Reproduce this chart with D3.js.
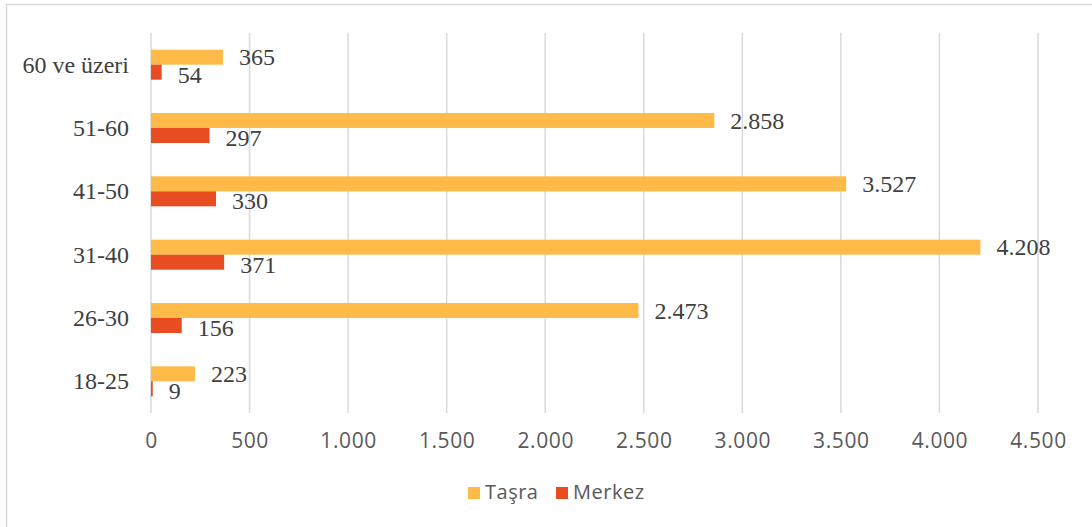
<!DOCTYPE html>
<html>
<head>
<meta charset="utf-8">
<script src="https://cdn.jsdelivr.net/npm/d3@7"></script>
<style>
  body { margin: 0; background: white; }
</style>
</head>
<body>
<div id="container"></div>
<script>
// data
let categories = ["60 ve üzeri", "51-60", "41-50", "31-40", "26-30", "18-25"];
let tasra = [365, 2858, 3527, 4208, 2473, 223];
let merkez = [54, 297, 330, 371, 156, 9];
let seriesNames = ["Taşra", "Merkez"];
let seriesColors = ["#FFBA47", "#E84D22"];
let xTicks = [0, 500, 1000, 1500, 2000, 2500, 3000, 3500, 4000, 4500];

let w = 1092;
let h = 527;

let viz = d3.select("#container")
  .append("svg")
    .attr("width", w)
    .attr("height", h)
;

// thin frame, only top and left edges show in the picture
viz.append("rect")
  .attr("x", 6.5)
  .attr("y", 4.5)
  .attr("width", w + 20)
  .attr("height", h + 20)
  .attr("fill", "white")
  .attr("stroke", "#d9d9d9")
  .attr("stroke-width", 1.5)
;

let xScale = d3.scaleLinear().domain([0, 4500]).range([151, 1038]);
let yScale = d3.scaleBand().domain(categories).range([33, 413])
  .paddingInner(0.526).paddingOuter(0.263);
let subScale = d3.scaleBand().domain(seriesNames).range([0, yScale.bandwidth()]);

let fmt = d3.formatLocale({decimal: ",", thousands: ".", grouping: [3], currency: ["", ""]}).format(",d");

// gridlines
viz.append("g").selectAll("line")
  .data(xTicks)
  .enter()
  .append("line")
    .attr("x1", d => xScale(d))
    .attr("x2", d => xScale(d))
    .attr("y1", 33)
    .attr("y2", 413)
    .attr("stroke", "#d9d9d9")
    .attr("stroke-width", 1.5)
;

// x axis labels (no line, no ticks)
let xAxis = d3.axisBottom(xScale).tickValues(xTicks).tickFormat(fmt).tickSize(0).tickPadding(0);
let xAxisGroup = viz.append("g").attr("transform", "translate(0, 448)").call(xAxis);
xAxisGroup.select(".domain").remove();
xAxisGroup.selectAll("text")
  .attr("dy", 0)
  .attr("y", 0)
  .attr("font-family", "'Open Sans', sans-serif")
  .attr("font-size", 21)
  .attr("letter-spacing", 0.6)
  .attr("fill", "#595959")
;

// category labels
let yAxis = d3.axisLeft(yScale).tickSize(0).tickPadding(0);
let yAxisGroup = viz.append("g").attr("transform", "translate(129, 0)").call(yAxis);
yAxisGroup.select(".domain").remove();
yAxisGroup.selectAll("text")
  .attr("dy", 8)
  .attr("font-family", "'Liberation Serif', 'Times New Roman', serif")
  .attr("font-size", 24)
  .attr("fill", "#404040")
;

let rows = categories.map((c, i) => ({cat: c, values: [tasra[i], merkez[i]]}));

let groups = viz.append("g").selectAll(".row")
  .data(rows)
  .enter()
  .append("g")
    .attr("class", "row")
    .attr("transform", d => "translate(0, " + yScale(d.cat) + ")")
;

groups.selectAll("rect")
  .data(d => d.values.map((v, j) => ({name: seriesNames[j], value: v, j: j})))
  .enter()
  .append("rect")
    .attr("x", xScale(0))
    .attr("y", d => subScale(d.name))
    .attr("width", d => xScale(d.value) - xScale(0))
    .attr("height", subScale.bandwidth())
    .attr("fill", d => seriesColors[d.j])
;

groups.selectAll(".val")
  .data(d => d.values.map((v, j) => ({name: seriesNames[j], value: v, j: j})))
  .enter()
  .append("text")
    .attr("class", "val")
    .text(d => fmt(d.value))
    .attr("x", d => xScale(d.value) + 16)
    .attr("y", d => subScale(d.name) + subScale.bandwidth() / 2 + (d.j == 0 ? 8 : 10.5))
    .attr("font-family", "'Liberation Serif', 'Times New Roman', serif")
    .attr("font-size", 24)
    .attr("fill", "#404040")
;

// legend
let legendX = [468, 556];
seriesNames.forEach(function(name, i){
  viz.append("rect")
    .attr("x", legendX[i])
    .attr("y", 487)
    .attr("width", 12)
    .attr("height", 12)
    .attr("fill", seriesColors[i]);
  viz.append("text")
    .text(name)
    .attr("x", legendX[i] + 17)
    .attr("y", 499)
    .attr("font-family", "'Open Sans', sans-serif")
    .attr("font-size", 20)
    .attr("letter-spacing", 0.5)
    .attr("fill", "#595959");
});
</script>
</body>
</html>
